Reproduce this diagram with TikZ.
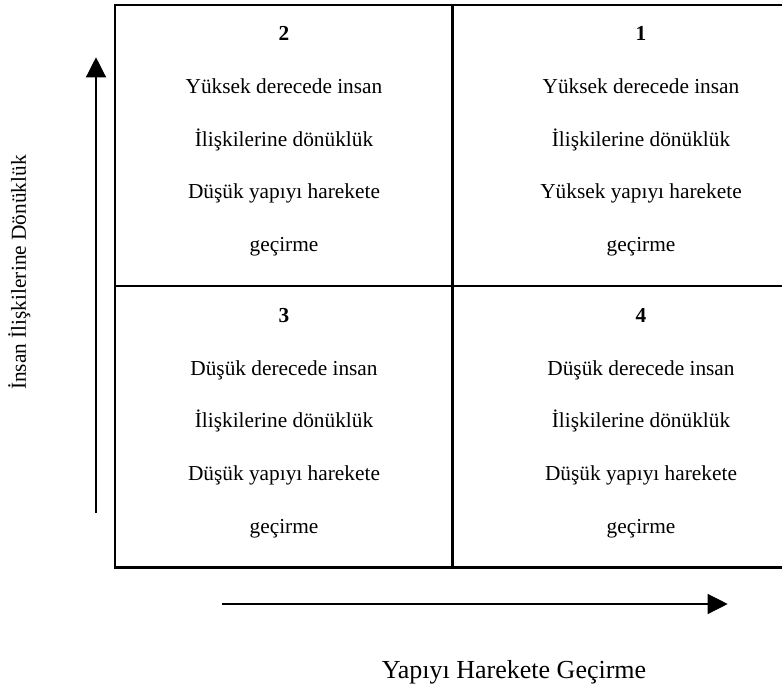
\documentclass[tikz,border=0pt]{standalone}
\usepackage{fontspec}
\setmainfont{Liberation Serif}
\usetikzlibrary{arrows.meta}
\begin{document}
\begin{tikzpicture}[x=0.75pt,y=-0.75pt,
  gridline/.style={line width=2pt},
  axisarrow/.style={line width=1pt,-{Triangle[length=15pt,width=15pt]}},
  celltext/.style={inner sep=0pt,anchor=base,font=\fontsize{16}{19}\selectfont},
  axislabel/.style={inner sep=0pt,anchor=base,font=\fontsize{16}{19}\selectfont},
  biglabel/.style={inner sep=0pt,anchor=base,font=\fontsize{19.5}{23}\selectfont}]
\useasboundingbox (0,0) rectangle (782,689);
\clip (0,0) rectangle (782,689);

% four-quadrant grid
\draw[gridline] (115,5) rectangle (830,567.7);
\draw[gridline] (452.7,5) -- (452.7,567.7);
\draw[gridline] (115,286) -- (830,286);

% quadrant texts
\foreach \t [count=\i] in {\textbf{2},Yüksek derecede insan,İlişkilerine dönüklük,Düşük yapıyı harekete,geçirme}
  \node[celltext] (q2-\i) at (284,{40.5+52.8*(\i-1)}) {\t};
\foreach \t [count=\i] in {\textbf{1},Yüksek derecede insan,İlişkilerine dönüklük,Yüksek yapıyı harekete,geçirme}
  \node[celltext] (q1-\i) at (641,{40.5+52.8*(\i-1)}) {\t};
\foreach \t [count=\i] in {\textbf{3},Düşük derecede insan,İlişkilerine dönüklük,Düşük yapıyı harekete,geçirme}
  \node[celltext] (q3-\i) at (284,{322.6+52.6*(\i-1)}) {\t};
\foreach \t [count=\i] in {\textbf{4},Düşük derecede insan,İlişkilerine dönüklük,Düşük yapıyı harekete,geçirme}
  \node[celltext] (q4-\i) at (641,{322.6+52.6*(\i-1)}) {\t};

% axes
\coordinate (ybot) at (96,513);
\coordinate (ytop) at (96,57.3);
\coordinate (xleft) at (222,604);
\coordinate (xright) at (727.7,604);
\draw[axisarrow] (ybot) -- (ytop);
\draw[axisarrow] (xleft) -- (xright);

\node[axislabel,rotate=90] (ylabel) at (26,272.5) {İnsan İlişkilerine Dönüklük};
\node[biglabel] (xlabel) at (514,678.3) {Yapıyı Harekete Geçirme};
\end{tikzpicture}
\end{document}
